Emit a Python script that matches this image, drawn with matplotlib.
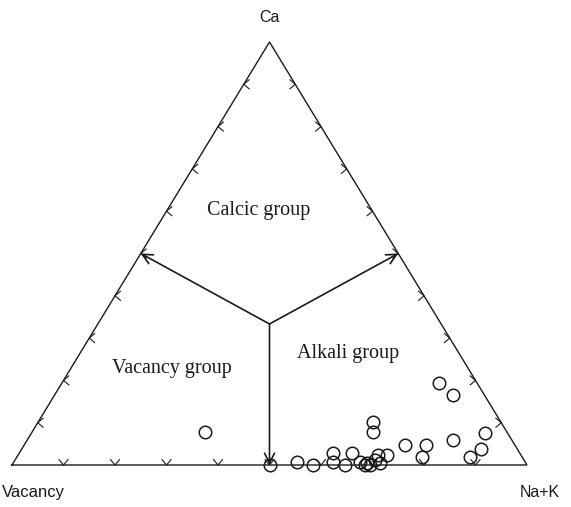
import numpy as np
import matplotlib.pyplot as plt

# ternary data (percent); Vacancy = 100 - Ca - (Na+K)
ca = [7.8, 0.0, 0.7, 0.0, 2.8, 0.7, 0.0, 2.8, 0.7, 0.0, 0.5, 0.0, 1.2, 2.4,
      0.5, 2.4, 10.2, 7.8, 4.7, 4.7, 1.9, 19.4, 16.5, 5.9, 7.6, 3.8, 1.9]
nak = [33.6, 50.0, 55.0, 58.4, 60.9, 62.0, 64.7, 64.6, 67.2, 68.5, 68.7, 69.5, 69.9, 69.9,
       71.2, 71.6, 65.0, 66.2, 73.9, 78.0, 78.7, 73.2, 77.4, 82.7, 88.0, 89.2, 88.0]
vac = [100 - c - n for c, n in zip(ca, nak)]

group_names = ['Calcic group', 'Vacancy group', 'Alkali group']
apex_names = ['Ca', 'Vacancy', 'Na+K']

H = 423 / 515  # triangle height (slightly squashed, as in the original)
col = '#1a1a1a'


def to_xy(c, n):
    c = np.asarray(c) / 100
    n = np.asarray(n) / 100
    return n + c / 2, c * H


fig = plt.figure(figsize=(5.71, 5.07), dpi=100)
ax = fig.add_axes([0, 0, 1, 1])
ax.set_xlim(-12 / 515, 559 / 515)
ax.set_ylim(-42 / 515, 465 / 515)
ax.axis('off')

V = np.array([0.0, 0.0])
N = np.array([1.0, 0.0])
C = np.array([0.5, H])

# outline
tri = np.array([V, N, C, V])
ax.plot(tri[:, 0], tri[:, 1], color=col, lw=1.0, solid_joinstyle='miter')

# chevron ticks every 10 %
L = 7 / 515
ang = np.radians(40)
for t in np.arange(1, 10) / 10:
    # left side "<"
    p = V + t * (C - V)
    ax.plot([p[0] + L * np.cos(ang), p[0], p[0] + L * np.cos(ang)],
            [p[1] + L * np.sin(ang), p[1], p[1] - L * np.sin(ang)], color=col, lw=0.8)
    # right side ">"
    p = N + t * (C - N)
    ax.plot([p[0] - L * np.cos(ang), p[0], p[0] - L * np.cos(ang)],
            [p[1] + L * np.sin(ang), p[1], p[1] - L * np.sin(ang)], color=col, lw=0.8)
    # bottom "v"
    p = V + t * (N - V)
    ax.plot([p[0] - L * np.sin(ang), p[0], p[0] + L * np.sin(ang)],
            [p[1] + L * np.cos(ang), p[1], p[1] + L * np.cos(ang)], color=col, lw=0.8)

# field boundaries from the centroid to the side midpoints
cen = (V + N + C) / 3
for mid in [(V + C) / 2, (N + C) / 2, (V + N) / 2]:
    ax.annotate('', xy=mid, xytext=cen,
                arrowprops=dict(arrowstyle='->', color=col, lw=1.2,
                                mutation_scale=18, shrinkA=0, shrinkB=0))

# samples
x, y = to_xy(ca, nak)
ax.plot(x, y, 'o', ms=9, mfc='none', mec=col, mew=1.1, ls='none')

# field names
serif = 'Liberation Serif'
ax.text(0.478, 0.495, group_names[0], family=serif, fontsize=14.5, ha='center', va='center', color=col)
ax.text(0.311, 0.188, group_names[1], family=serif, fontsize=14.5, ha='center', va='center', color=col)
ax.text(0.652, 0.217, group_names[2], family=serif, fontsize=14.5, ha='center', va='center', color=col)

# apex labels
sans = 'Liberation Sans'
ax.text(0.5, 0.868, apex_names[0], family=sans, fontsize=11.5, ha='center', va='center', color=col)
ax.text(-0.0205, -0.054, apex_names[1], family=sans, fontsize=12, ha='left', va='center', color=col)
ax.text(1.025, -0.054, apex_names[2], family=sans, fontsize=11.5, ha='center', va='center', color=col)

fig.savefig('out.png', dpi=100)
